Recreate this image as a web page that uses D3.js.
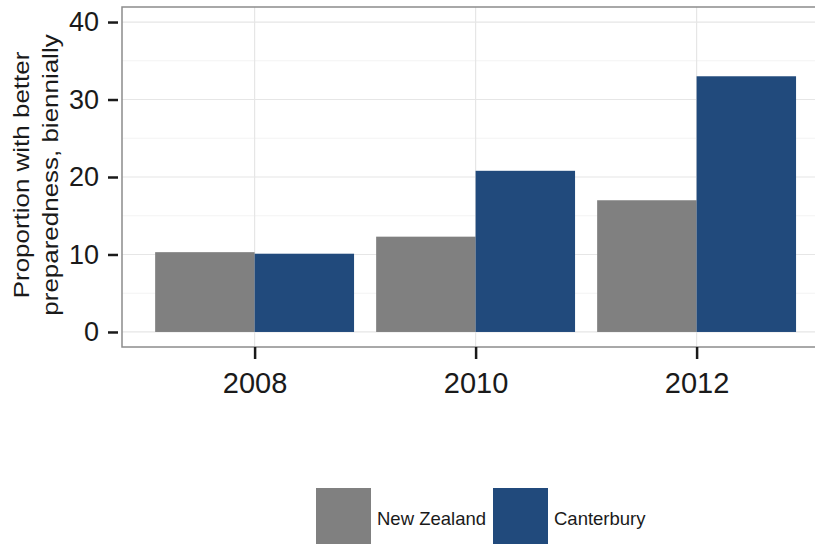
<!DOCTYPE html>
<html>
<head>
<meta charset="utf-8">
<script src="https://cdn.jsdelivr.net/npm/d3@7"></script>
<style>
  body { margin: 0; background: #fff; }
  text { font-family: "Liberation Sans", Arial, sans-serif; fill: #1a1a1a; }
</style>
</head>
<body>
<script>
// data
var years = ["2008", "2010", "2012"];
var seriesNames = ["New Zealand", "Canterbury"];
var newZealand = [10.3, 12.3, 17.0];
var canterbury = [10.1, 20.8, 33.0];
var yTicks = [0, 10, 20, 30, 40];
var yMinor = [5, 15, 25, 35];
var colors = ["#808080", "#214a7c"];

var W = 815, H = 544;
var panel = {left: 122, top: 7, bottom: 347, right: 829};

var svg = d3.select("body").append("svg")
    .attr("width", W).attr("height", H);

// scales (ggplot style: discrete expand 0.6, continuous limits padded)
var x = d3.scalePoint().domain(years)
    .range([panel.left + 0.6 * 221, panel.left + 2.6 * 221]);
var step = x.step();
var xSub = d3.scaleBand().domain(seriesNames)
    .range([-0.45 * step, 0.45 * step]);
var y = d3.scaleLinear().domain([-1.94, 41.94]).range([panel.bottom, panel.top]);

var g = svg.append("g");

// grid
g.selectAll(".minor").data(yMinor).enter().append("line")
    .attr("x1", panel.left).attr("x2", panel.right)
    .attr("y1", function(d) { return y(d); }).attr("y2", function(d) { return y(d); })
    .attr("stroke", "#f3f3f3").attr("stroke-width", 1);
g.selectAll(".major").data(yTicks).enter().append("line")
    .attr("x1", panel.left).attr("x2", panel.right)
    .attr("y1", function(d) { return y(d); }).attr("y2", function(d) { return y(d); })
    .attr("stroke", "#e6e6e6").attr("stroke-width", 1.2);
g.selectAll(".vgrid").data(years).enter().append("line")
    .attr("x1", function(d) { return x(d); }).attr("x2", function(d) { return x(d); })
    .attr("y1", panel.top).attr("y2", panel.bottom)
    .attr("stroke", "#e6e6e6").attr("stroke-width", 1.2);

// bars
var allSeries = [newZealand, canterbury];
allSeries.forEach(function(vals, si) {
  g.selectAll(".bar" + si).data(vals).enter().append("rect")
      .attr("x", function(d, i) { return x(years[i]) + xSub(seriesNames[si]); })
      .attr("width", xSub.bandwidth())
      .attr("y", function(d) { return y(d); })
      .attr("height", function(d) { return y(0) - y(d); })
      .attr("fill", colors[si]);
});

// panel border
g.append("rect")
    .attr("x", panel.left).attr("y", panel.top)
    .attr("width", panel.right - panel.left).attr("height", panel.bottom - panel.top)
    .attr("fill", "none").attr("stroke", "#8c8c8c").attr("stroke-width", 1.5);

// y axis
var yAxis = svg.append("g")
    .attr("transform", "translate(" + (panel.left - 4) + ",0)")
    .call(d3.axisLeft(y).tickValues(yTicks).tickSize(10).tickPadding(9));
yAxis.select(".domain").remove();
yAxis.selectAll(".tick line").attr("stroke", "#1a1a1a").attr("stroke-width", 2.5);
yAxis.selectAll(".tick text").attr("font-size", 27).attr("fill", "#1a1a1a")
    .attr("font-family", "Liberation Sans, Arial, sans-serif");

// x axis
var xAxis = svg.append("g")
    .attr("transform", "translate(0," + panel.bottom + ")")
    .call(d3.axisBottom(x).tickSize(12).tickPadding(13));
xAxis.select(".domain").remove();
xAxis.selectAll(".tick line").attr("stroke", "#1a1a1a").attr("stroke-width", 2.5);
xAxis.selectAll(".tick text").attr("font-size", 29).attr("fill", "#1a1a1a")
    .attr("font-family", "Liberation Sans, Arial, sans-serif");

// y title (two lines, stretched along the text direction like the reference)
var yTitle = svg.append("text")
    .attr("transform", "translate(29,175) rotate(-90) scale(1.18,1)")
    .attr("text-anchor", "middle")
    .attr("font-size", 22);
yTitle.append("tspan").attr("x", 0).attr("y", 0).text("Proportion with better");
yTitle.append("tspan").attr("x", 0).attr("y", 29).text("preparedness, biennially");

// legend
var legendX = [316, 493];
var legend = svg.selectAll(".legend").data(seriesNames).enter().append("g")
    .attr("transform", function(d, i) { return "translate(" + legendX[i] + ",488)"; });
legend.append("rect")
    .attr("width", 55).attr("height", 57)
    .attr("fill", function(d, i) { return colors[i]; });
legend.append("text")
    .attr("x", 61).attr("y", 37)
    .attr("font-size", 18.5)
    .text(function(d) { return d; });
</script>
</body>
</html>
